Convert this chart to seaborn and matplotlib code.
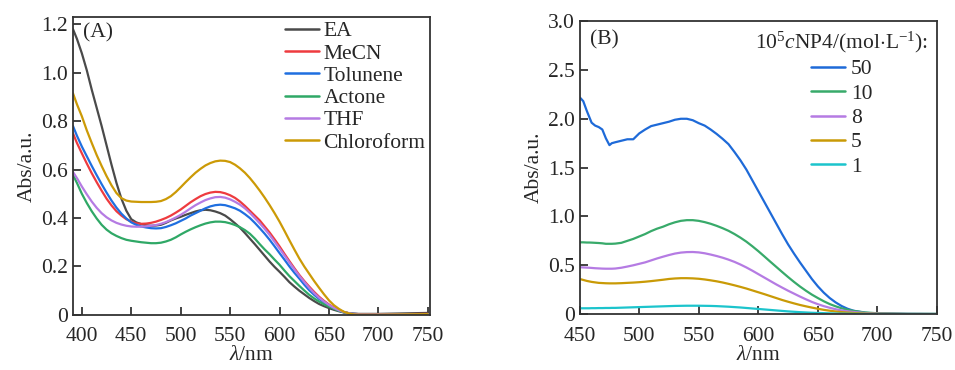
import numpy as np
import pandas as pd
import seaborn as sns
import matplotlib.pyplot as plt
from matplotlib.ticker import FuncFormatter

# panel A: absorption in different solvents
wl_a = [391, 395,
        400, 405, 410, 415, 420, 425, 430, 435, 440, 445,
        450, 455, 460, 465, 470, 475, 480, 485, 490, 495,
        500, 505, 510, 515, 520, 525, 530, 535, 540, 545,
        550, 555, 560, 565, 570, 575, 580, 585, 590, 595,
        600, 605, 610, 615, 620, 625, 630, 635, 640, 645,
        650, 655, 660, 665, 670, 675, 680,
        690, 700, 725, 750]
ea = [1.18, 1.14,
      1.08, 1.01, 0.93, 0.855, 0.78, 0.70, 0.62, 0.545, 0.48, 0.43,
      0.395, 0.382, 0.375, 0.37, 0.368, 0.369, 0.372, 0.38, 0.39, 0.398,
      0.405, 0.413, 0.42, 0.427, 0.432, 0.434, 0.432, 0.427, 0.42, 0.41,
      0.395, 0.378, 0.36, 0.338, 0.315, 0.292, 0.268, 0.244, 0.22, 0.198,
      0.178, 0.157, 0.135, 0.117, 0.10, 0.085, 0.07, 0.057, 0.045, 0.036,
      0.028, 0.021, 0.015, 0.01, 0.007, 0.005, 0.004,
      0.004, 0.004, 0.006, 0.008]
mecn = [0.75, 0.71,
        0.667, 0.625, 0.585, 0.548, 0.513, 0.48, 0.452, 0.428, 0.41, 0.395,
        0.385, 0.378, 0.376, 0.377, 0.38, 0.385, 0.392, 0.40, 0.41, 0.422,
        0.435, 0.45, 0.465, 0.478, 0.49, 0.499, 0.505, 0.508, 0.507, 0.502,
        0.494, 0.483, 0.468, 0.45, 0.43, 0.41, 0.39, 0.365, 0.34, 0.312,
        0.283, 0.252, 0.222, 0.193, 0.165, 0.14, 0.117, 0.095, 0.075, 0.058,
        0.043, 0.03, 0.02, 0.012, 0.007, 0.004, 0.003,
        0.003, 0.003, 0.003, 0.004]
tolunene = [0.78, 0.74,
            0.695, 0.655, 0.615, 0.577, 0.54, 0.505, 0.472, 0.443, 0.418,
            0.398,
            0.382, 0.372, 0.365, 0.361, 0.358, 0.357, 0.358, 0.363, 0.37,
            0.378,
            0.388, 0.398, 0.41, 0.42, 0.43, 0.44, 0.448, 0.453, 0.455, 0.453,
            0.447, 0.44, 0.43, 0.416, 0.40, 0.38, 0.358, 0.335, 0.31, 0.283,
            0.255, 0.228, 0.20, 0.174, 0.15, 0.125, 0.102, 0.083, 0.066,
            0.052,
            0.039, 0.027, 0.018, 0.011, 0.006, 0.004, 0.003,
            0.003, 0.003, 0.003, 0.003]
actone = [0.578, 0.545,
          0.50, 0.462, 0.428, 0.398, 0.372, 0.352, 0.337, 0.326, 0.317, 0.31,
          0.306, 0.303, 0.30, 0.298, 0.296, 0.296, 0.298, 0.303, 0.31, 0.32,
          0.332, 0.343, 0.353, 0.362, 0.37, 0.377, 0.382, 0.385, 0.385,
          0.383,
          0.378, 0.371, 0.362, 0.35, 0.335, 0.315, 0.292, 0.27, 0.25, 0.228,
          0.207, 0.183, 0.16, 0.14, 0.12, 0.101, 0.083, 0.068, 0.055, 0.044,
          0.034, 0.025, 0.017, 0.011, 0.007, 0.004, 0.003,
          0.003, 0.003, 0.003, 0.003]
thf = [0.59, 0.565,
       0.53, 0.498, 0.468, 0.442, 0.42, 0.403, 0.39, 0.38, 0.373, 0.368,
       0.365, 0.364, 0.364, 0.366, 0.368, 0.371, 0.376, 0.383, 0.392, 0.402,
       0.413, 0.426, 0.44, 0.453, 0.464, 0.474, 0.481, 0.486, 0.487, 0.484,
       0.477, 0.467, 0.455, 0.44, 0.421, 0.40, 0.378, 0.355, 0.33, 0.302,
       0.274, 0.245, 0.216, 0.188, 0.161, 0.136, 0.112, 0.09, 0.071, 0.055,
       0.041, 0.029, 0.019, 0.012, 0.007, 0.004, 0.003,
       0.003, 0.003, 0.003, 0.003]
chloroform = [0.915, 0.87,
              0.82, 0.762, 0.71, 0.66, 0.615, 0.573, 0.535, 0.503, 0.482,
              0.472,
              0.468, 0.467, 0.466, 0.466, 0.466, 0.467, 0.47, 0.478, 0.49,
              0.507,
              0.527, 0.548, 0.568, 0.587, 0.603, 0.617, 0.627, 0.634, 0.637,
              0.636,
              0.631, 0.62, 0.605, 0.587, 0.565, 0.54, 0.513, 0.484, 0.453,
              0.42,
              0.385, 0.347, 0.308, 0.27, 0.233, 0.20, 0.17, 0.14, 0.112,
              0.085,
              0.06, 0.04, 0.025, 0.013, 0.006, 0.002, 0.001,
              0.001, 0.001, 0.002, 0.003]
solvents = ['EA', 'MeCN', 'Tolunene', 'Actone', 'THF', 'Chloroform']
solvent_colors = ['#4a4a4a', '#ee3b3f', '#1f6fe0', '#2fa866', '#b57be3',
                  '#cc9a06']

# panel B: concentration series
wl_b = [450, 453, 456, 458, 460, 463, 466, 469, 472, 475, 477,
        480, 485, 490, 495, 500, 505, 510, 515, 520, 525, 530, 535, 540, 545,
        550, 555, 560, 565, 570, 575, 580, 585, 590, 595,
        600, 605, 610, 615, 620, 625, 630, 635, 640, 645,
        650, 655, 660, 665, 670, 675, 680,
        690, 700, 725, 750]
c50 = [2.22, 2.18, 2.08, 2.02, 1.96, 1.93, 1.915, 1.89, 1.80, 1.73, 1.75,
       1.76, 1.775, 1.79, 1.79, 1.85, 1.89, 1.925, 1.94, 1.955, 1.97, 1.99,
       2.0, 2.0, 1.985,
       1.955, 1.93, 1.89, 1.845, 1.795, 1.74, 1.66, 1.575, 1.48, 1.37,
       1.26, 1.15, 1.04, 0.93, 0.82, 0.715, 0.62, 0.53, 0.445, 0.36,
       0.285, 0.22, 0.165, 0.12, 0.083, 0.055, 0.035,
       0.013, 0.006, 0.002, 0.001]
c10 = [0.735, 0.735, 0.733, 0.733, 0.732, 0.73, 0.728, 0.725, 0.72, 0.72,
       0.72,
       0.722, 0.73, 0.75, 0.77, 0.795, 0.82, 0.85, 0.875, 0.895, 0.92, 0.94,
       0.955, 0.962, 0.962,
       0.955, 0.942, 0.925, 0.904, 0.88, 0.853, 0.82, 0.783, 0.742, 0.695,
       0.645, 0.592, 0.538, 0.485, 0.432, 0.38, 0.33, 0.283, 0.24, 0.20,
       0.165, 0.132, 0.103, 0.08, 0.06, 0.045, 0.033,
       0.017, 0.009, 0.003, 0.002]
c8 = [0.48, 0.478, 0.476, 0.475, 0.473, 0.47, 0.468, 0.466, 0.465, 0.465,
      0.465,
      0.467, 0.475, 0.487, 0.50, 0.515, 0.53, 0.55, 0.57, 0.588, 0.605, 0.62,
      0.63, 0.635, 0.636,
      0.632, 0.623, 0.61, 0.595, 0.578, 0.558, 0.535, 0.508, 0.478, 0.445,
      0.41, 0.375, 0.34, 0.305, 0.272, 0.24, 0.21, 0.18, 0.152, 0.125,
      0.102, 0.082, 0.065, 0.05, 0.038, 0.029, 0.022,
      0.011, 0.006, 0.002, 0.001]
c5 = [0.36, 0.35, 0.34, 0.335, 0.33, 0.325, 0.32, 0.318, 0.316, 0.315,
      0.315,
      0.315, 0.317, 0.32, 0.323, 0.327, 0.332, 0.338, 0.345, 0.352, 0.36,
      0.365, 0.368, 0.368, 0.366,
      0.362, 0.355, 0.346, 0.336, 0.324, 0.31, 0.295, 0.279, 0.262, 0.243,
      0.224, 0.205, 0.185, 0.165, 0.145, 0.127, 0.11, 0.094, 0.08, 0.067,
      0.055, 0.044, 0.035, 0.027, 0.021, 0.016, 0.012,
      0.006, 0.003, 0.001, 0.001]
c1 = [0.06, 0.06, 0.06, 0.06, 0.061, 0.061, 0.062, 0.062, 0.063, 0.063,
      0.064,
      0.064, 0.066, 0.068, 0.07, 0.072, 0.074, 0.076, 0.078, 0.08, 0.082,
      0.084, 0.085, 0.086, 0.086,
      0.086, 0.085, 0.084, 0.082, 0.079, 0.076, 0.072, 0.068, 0.063, 0.058,
      0.053, 0.048, 0.043, 0.038, 0.033, 0.028, 0.024, 0.02, 0.017, 0.014,
      0.012, 0.01, 0.008, 0.006, 0.005, 0.004, 0.003,
      0.002, 0.001, 0.001, 0.001]
concs = ['50', '10', '8', '5', '1']
conc_colors = ['#1e6ad8', '#38aa6a', '#b57be3', '#c99a06', '#1cc4cc']

FS = 15.5

sns.set_style('ticks')
plt.rcParams['font.family'] = ['Liberation Serif', 'DejaVu Serif']
plt.rcParams['mathtext.fontset'] = 'custom'
plt.rcParams['mathtext.rm'] = 'Liberation Serif'
plt.rcParams['mathtext.it'] = 'Liberation Serif:italic'
plt.rcParams['xtick.direction'] = 'in'
plt.rcParams['ytick.direction'] = 'in'


def long_table(wl, names, series):
    frames = []
    for name, vals in zip(names, series):
        frames.append(pd.DataFrame({'wl': wl, 'abs': vals, 'name': name}))
    return pd.concat(frames, ignore_index=True)


def style_axes(ax):
    for sp in ax.spines.values():
        sp.set_color('#333333')
        sp.set_linewidth(1.3)
    ax.tick_params(axis='both', which='both', length=6, width=1.2,
                   color='#222222', labelsize=FS, top=False, right=False)
    ax.tick_params(axis='x', pad=9)
    ax.tick_params(axis='y', pad=3.5)
    ax.yaxis.set_major_formatter(
        FuncFormatter(lambda v, p: '0' if abs(v) < 1e-9 else f'{v:.1f}'))
    ax.set_xlabel(r'$\lambda$/nm', fontsize=FS, labelpad=0)
    ax.set_ylabel('Abs/a.u.', fontsize=FS, labelpad=3)


fig = plt.figure(figsize=(9.55, 3.7), dpi=100)
ax1 = fig.add_axes([0.0764, 0.149, 0.3736, 0.805])
ax2 = fig.add_axes([0.607, 0.151, 0.374, 0.792])

data_a = long_table(wl_a, solvents,
                    [ea, mecn, tolunene, actone, thf, chloroform])
sns.lineplot(data=data_a, x='wl', y='abs', hue='name', hue_order=solvents,
             palette=solvent_colors, linewidth=1.6, ax=ax1, legend=False,
             sort=False)
ax1.set_xlim(391, 752)
ax1.set_ylim(0, 1.23)
ax1.set_xticks(np.arange(400, 751, 50))
ax1.set_yticks(np.arange(0, 1.21, 0.2))
style_axes(ax1)
ax1.text(0.027, 0.98, '(A)', transform=ax1.transAxes, fontsize=FS,
         va='top', ha='left')
handles = [plt.Line2D([], [], color=c, lw=1.8) for c in solvent_colors]
ax1.legend(handles, solvents, loc='upper right', frameon=False, fontsize=FS,
           handlelength=1.6, handletextpad=0.2, labelspacing=0.1,
           borderaxespad=0.1, borderpad=0.1)

data_b = long_table(wl_b, concs, [c50, c10, c8, c5, c1])
sns.lineplot(data=data_b, x='wl', y='abs', hue='name', hue_order=concs,
             palette=conc_colors, linewidth=1.6, ax=ax2, legend=False,
             sort=False)
ax2.set_xlim(450, 750)
ax2.set_ylim(0, 3.0)
ax2.set_xticks(np.arange(450, 751, 50))
ax2.set_yticks(np.arange(0, 3.01, 0.5))
style_axes(ax2)
ax2.text(0.03, 0.97, '(B)', transform=ax2.transAxes, fontsize=FS,
         va='top', ha='left')
handles = [plt.Line2D([], [], color=c, lw=1.8) for c in conc_colors]
ax2.legend(handles, concs, loc='upper right', frameon=False, fontsize=FS,
           title=r'10$^5$$c$NP4/(mol$\cdot$L$^{-1}$):', title_fontsize=FS,
           handlelength=1.6, handletextpad=0.25, labelspacing=0.2,
           borderaxespad=0.3, borderpad=0.1)

fig.savefig('out.png', dpi=100)
